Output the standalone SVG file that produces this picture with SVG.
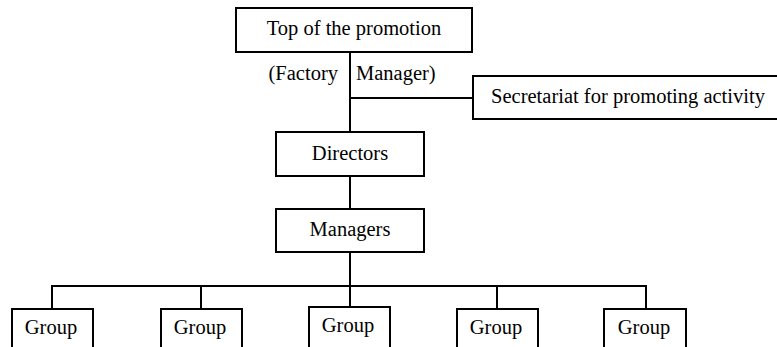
<svg xmlns="http://www.w3.org/2000/svg" width="777" height="347" viewBox="0 0 777 347">
<style>
rect{fill:#fff;stroke:#000;stroke-width:2}
.c line{stroke:#000;stroke-width:2}
text{font-family:"Liberation Serif","DejaVu Serif",serif;font-size:20.5px;fill:#000}
.m{text-anchor:middle}
</style>
<rect x="0" y="0" width="777" height="347" style="stroke:none"/>
<g class="c" id="connectors">
<line x1="350" y1="52" x2="350" y2="132"/>
<line x1="350" y1="98" x2="473" y2="98"/>
<line x1="350" y1="176" x2="350" y2="209"/>
<line x1="350" y1="252" x2="350" y2="307"/>
<line x1="51" y1="286" x2="647" y2="286"/>
<line x1="52" y1="285" x2="52" y2="309"/>
<line x1="201" y1="285" x2="201" y2="309"/>
<line x1="497" y1="285" x2="497" y2="309"/>
<line x1="646" y1="285" x2="646" y2="309"/>
</g>
<g id="top">
<rect x="236" y="8" width="236" height="44"/>
<text class="m" x="354" y="35">Top of the promotion</text>
</g>
<g id="label">
<text x="338" y="80" text-anchor="end">(Factory</text>
<text x="356" y="80">Manager)</text>
</g>
<g id="secretariat">
<rect x="473" y="76" width="310" height="43"/>
<text class="m" x="628" y="103">Secretariat for promoting activity</text>
</g>
<g id="directors">
<rect x="276" y="132" width="148" height="44"/>
<text class="m" x="350" y="160">Directors</text>
</g>
<g id="managers">
<rect x="276" y="209" width="148" height="43"/>
<text class="m" x="350" y="236">Managers</text>
</g>
<g id="group1"><rect x="12" y="309" width="81" height="45"/><text class="m" x="51" y="334">Group</text></g>
<g id="group2"><rect x="161" y="309" width="81" height="45"/><text class="m" x="200" y="334">Group</text></g>
<g id="group3"><rect x="309" y="307" width="81" height="47"/><text class="m" x="348" y="332">Group</text></g>
<g id="group4"><rect x="457" y="309" width="81" height="45"/><text class="m" x="496" y="334">Group</text></g>
<g id="group5"><rect x="604" y="309" width="82" height="45"/><text class="m" x="644" y="334">Group</text></g>
</svg>
